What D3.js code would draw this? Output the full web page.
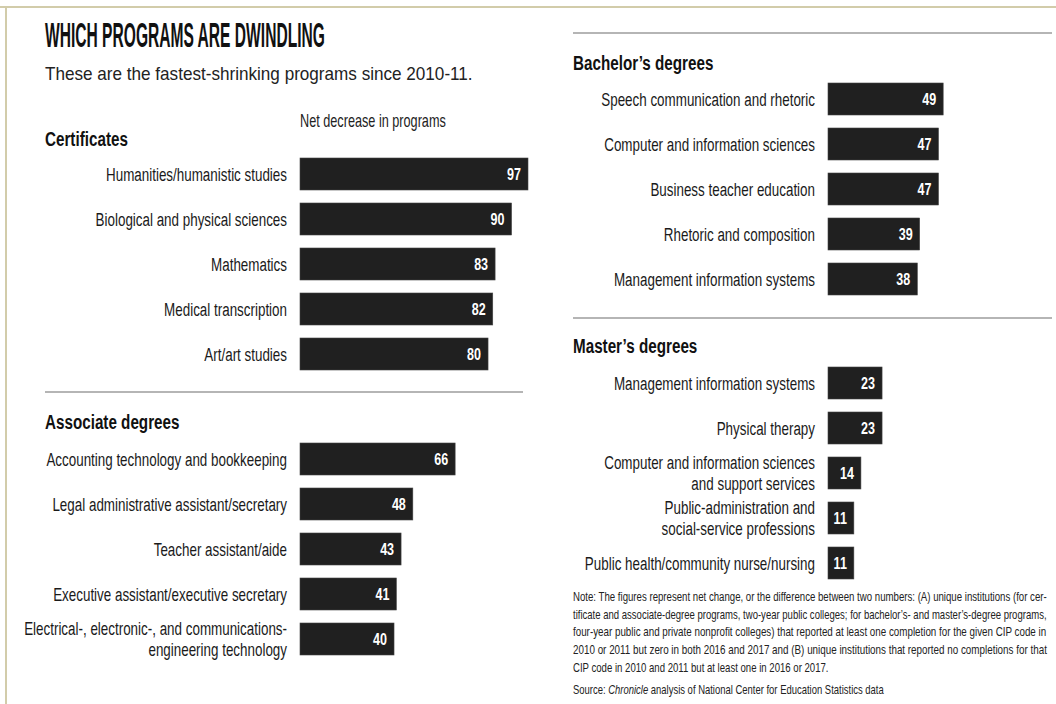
<!DOCTYPE html>
<html>
  <head>
    <title>Which programs are dwindling</title>
    <script src="https://d3js.org/d3.v7.min.js"></script>
    <style>
      body { margin: 0; background: #fff; }
      svg text { font-family: "Liberation Sans", Arial, sans-serif; }
      .label { font-size: 18.5px; fill: #1a1a1a; }
      .value { font-size: 16.5px; font-weight: bold; fill: #fff; }
      .head { font-size: 21px; font-weight: bold; fill: #111; }
      .note { font-size: 12.5px; fill: #222; }
    </style>
  </head>
  <body>
    <div id="chart"></div>
    <script>
      // Chart values
      var certLabels = ["Humanities/humanistic studies", "Biological and physical sciences", "Mathematics",
        "Medical transcription", "Art/art studies"];
      var certValues = [97, 90, 83, 82, 80];

      var assocLabels = ["Accounting technology and bookkeeping", "Legal administrative assistant/secretary",
        "Teacher assistant/aide", "Executive assistant/executive secretary",
        "Electrical-, electronic-, and communications-|engineering technology"];
      var assocValues = [66, 48, 43, 41, 40];

      var bachLabels = ["Speech communication and rhetoric", "Computer and information sciences",
        "Business teacher education", "Rhetoric and composition", "Management information systems"];
      var bachValues = [49, 47, 47, 39, 38];

      var mastLabels = ["Management information systems", "Physical therapy",
        "Computer and information sciences|and support services",
        "Public-administration and|social-service professions", "Public health/community nurse/nursing"];
      var mastValues = [23, 23, 14, 11, 11];

      var noteLines = [
        "Note: The figures represent net change, or the difference between two numbers: (A) unique institutions (for cer-",
        "tificate and associate-degree programs, two-year public colleges; for bachelor\u2019s- and master\u2019s-degree programs,",
        "four-year public and private nonprofit colleges) that reported at least one completion for the given CIP code in",
        "2010 or 2011 but zero in both 2016 and 2017 and (B) unique institutions that reported no completions for that",
        "CIP code in 2010 and 2011 but at least one in 2016 or 2017."
      ];

      var width = 1056, height = 704;
      var squeeze = 0.725; // the print face is a condensed gothic

      var svg = d3.select("#chart").append("svg")
        .attr("width", width)
        .attr("height", height);

      // page frame (top and left edge of the scanned page)
      svg.append("line").attr("x1", 0).attr("x2", width).attr("y1", 7).attr("y2", 7)
        .attr("stroke", "#d2ccaa").attr("stroke-width", 2);
      svg.append("line").attr("x1", 6).attr("x2", 6).attr("y1", 7).attr("y2", height)
        .attr("stroke", "#d2ccaa").attr("stroke-width", 2);

      // condensed text: a group squeezed horizontally
      function squeezed(parent, px, py, sx) {
        return parent.append("g")
          .attr("transform", "translate(" + px + "," + py + ") scale(" + sx + ",1)");
      }

      // text fitted to a measured width (title, justified note lines)
      function fitted(parent, px, py, w) {
        var g = parent.append("g");
        var t = g.append("text");
        return { g: g, t: t, fit: function () {
          var len = t.node().getComputedTextLength();
          g.attr("transform", "translate(" + px + "," + py + ") scale(" + (w / len) + ",1)");
        } };
      }

      // shared value scale for every panel
      var x = d3.scaleLinear().domain([0, 97]).range([0, 228]);

      // title block
      var title = fitted(svg, 45, 47, 280);
      title.t.style("font-size", "35px").style("font-weight", "bold").style("fill", "#111")
        .text("WHICH PROGRAMS ARE DWINDLING");
      title.fit();

      var sub = fitted(svg, 45, 80, 428);
      sub.t.style("font-size", "17.5px").style("fill", "#222")
        .text("These are the fastest-shrinking programs since 2010-11.");
      sub.fit();

      squeezed(svg, 300, 127, squeeze).append("text")
        .style("font-size", "17.5px").style("fill", "#222")
        .text("Net decrease in programs");

      function section(title, labels, values, left, headY, top) {
        var g = svg.append("g");

        squeezed(g, left === 300 ? 45 : 573, headY, squeeze).append("text")
          .attr("class", "head")
          .text(title);

        var y = d3.scaleBand()
          .domain(labels)
          .range([top, top + labels.length * 45])
          .paddingInner(13 / 45)
          .paddingOuter(13 / 90);

        var rows = g.selectAll(".row")
          .data(labels.map(function (l, i) { return { label: l, value: values[i] }; }))
          .enter().append("g")
          .attr("class", "row");

        rows.append("rect")
          .attr("x", left)
          .attr("y", function (d) { return y(d.label); })
          .attr("width", function (d) { return x(d.value); })
          .attr("height", y.bandwidth())
          .attr("fill", "#202020")
          .attr("stroke", "#444")
          .attr("stroke-width", 0.6);

        rows.each(function (d) {
          var row = d3.select(this);
          var yc = y(d.label) + y.bandwidth() / 2;

          squeezed(row, left + x(d.value) - 7, yc, 0.76).append("text")
            .attr("class", "value")
            .attr("dy", "0.36em")
            .attr("text-anchor", "end")
            .text(d.value);

          var parts = d.label.split("|");
          var t = squeezed(row, left - 13, yc, squeeze).append("text")
            .attr("class", "label")
            .attr("text-anchor", "end");
          parts.forEach(function (p, i) {
            t.append("tspan")
              .attr("x", 0)
              .attr("dy", i === 0 ? (0.36 - (parts.length - 1) * 0.55) + "em" : "1.1em")
              .text(p);
          });
        });
      }

      section("Certificates", certLabels, certValues, 300, 146, 151.5);
      section("Associate degrees", assocLabels, assocValues, 300, 429, 436.5);
      section("Bachelor\u2019s degrees", bachLabels, bachValues, 828, 70, 76.5);
      section("Master\u2019s degrees", mastLabels, mastValues, 828, 353, 360.5);

      // separator rules
      var rules = [[45, 523, 392], [573, 1052, 33], [573, 1052, 318]];
      svg.selectAll(".rule")
        .data(rules)
        .enter().append("line")
        .attr("class", "rule")
        .attr("x1", function (d) { return d[0]; })
        .attr("x2", function (d) { return d[1]; })
        .attr("y1", function (d) { return d[2]; })
        .attr("y2", function (d) { return d[2]; })
        .attr("stroke", "#9c9c9c")
        .attr("stroke-width", 1.5);

      // note and source
      var noteWidths = [474, 474, 474, 474, 256];
      noteLines.forEach(function (line, i) {
        var n = fitted(svg, 573, 601 + i * 17.7, noteWidths[i]);
        n.t.attr("class", "note").text(line);
        n.fit();
      });

      var src = fitted(svg, 573, 694, 311);
      src.t.attr("class", "note");
      src.t.append("tspan").text("Source: ");
      src.t.append("tspan").style("font-style", "italic").text("Chronicle");
      src.t.append("tspan").text(" analysis of National Center for Education Statistics data");
      src.fit();
    </script>
  </body>
</html>
